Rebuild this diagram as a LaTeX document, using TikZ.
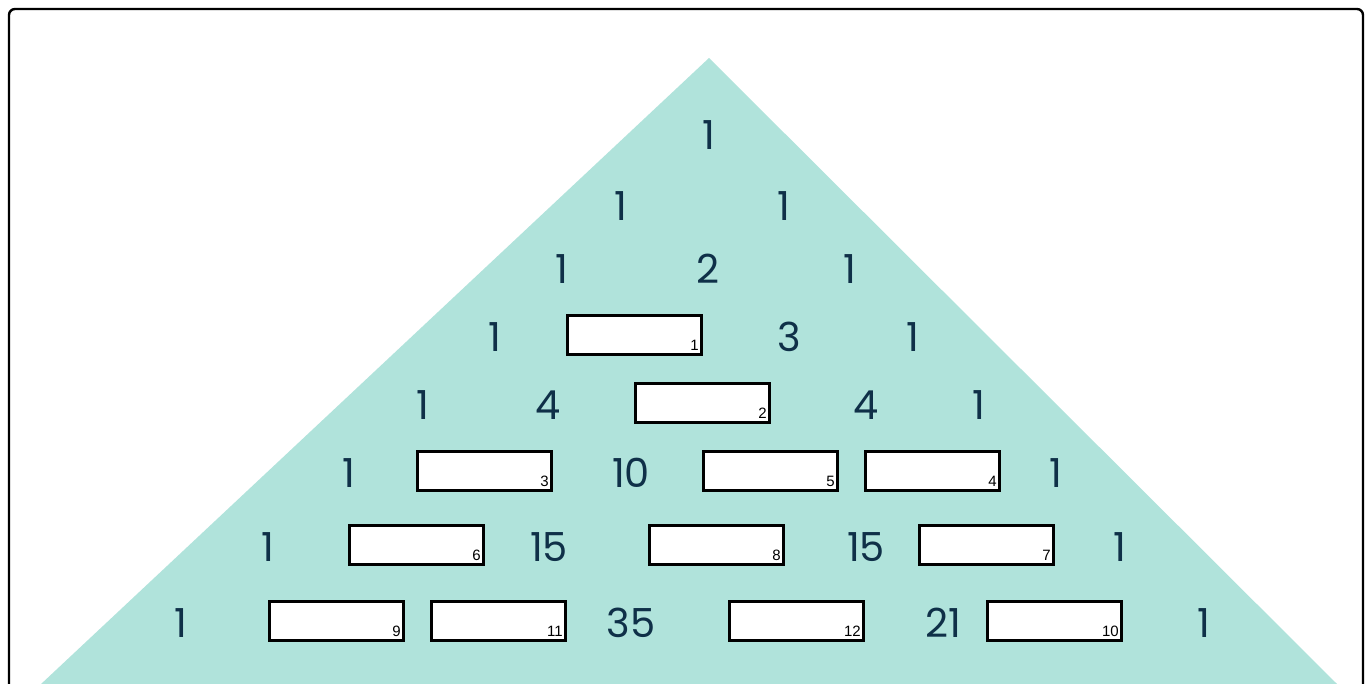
\documentclass[tikz,border=0pt]{standalone}
\usepackage{fontspec}
\newfontfamily\numfont{Poppins}
\newfontfamily\tagfont{Liberation Sans}
\definecolor{teal1}{HTML}{B0E3DB}
\definecolor{navy}{HTML}{0F3048}
\tikzset{
  num/.style={font=\numfont\fontsize{40}{40}\selectfont, text=navy, inner sep=0pt},
  blank/.style={draw=black, line width=3pt, fill=white, minimum width=134pt, minimum height=39pt, inner sep=0pt},
  tag/.style={font=\tagfont\fontsize{15}{15}\selectfont, text=black, inner sep=0pt, anchor=south east}
}
\begin{document}
\begin{tikzpicture}[x=1pt,y=-1pt]
\useasboundingbox (0,0) rectangle (1372,683);
\clip (0,0) rectangle (1372,683);
\fill[white] (0,0) rectangle (1372,683);
\draw[line width=2.4pt, rounded corners=6pt] (9,9) rectangle (1363,720);
\fill[teal1] (709,58) -- (1338,685) -- (40,685) -- cycle;
% row 0
\node[num] (n00) at (709,135) {1};
% row 1
\node[num] (n10) at (621,206) {1};
\node[num] (n11) at (784,206) {1};
% row 2
\node[num] (n20) at (562,269) {1};
\node[num] (n21) at (708,269) {2};
\node[num] (n22) at (850,269) {1};
% row 3
\node[num] (n30) at (495,337) {1};
\node[blank] (b1) at (634.5,335) {};
\node[num] (n32) at (789,337) {3};
\node[num] (n33) at (913,337) {1};
% row 4
\node[num] (n40) at (423,405) {1};
\node[num] (n41) at (548,405) {4};
\node[blank] (b2) at (702.5,403) {};
\node[num] (n43) at (866,405) {4};
\node[num] (n44) at (979,405) {1};
% row 5
\node[num] (n50) at (349,473) {1};
\node[blank] (b3) at (484.5,471) {};
\node[num] (n52) at (631,473) {10};
\node[blank] (b5) at (770.5,471) {};
\node[blank] (b4) at (932.5,471) {};
\node[num] (n55) at (1056,473) {1};
% row 6
\node[num] (n60) at (268,547) {1};
\node[blank] (b6) at (416.5,545) {};
\node[num] (n62) at (549,547) {15};
\node[blank] (b8) at (716.5,545) {};
\node[num] (n64) at (866,547) {15};
\node[blank] (b7) at (986.5,545) {};
\node[num] (n66) at (1120,547) {1};
% row 7
\node[num] (n70) at (181,623) {1};
\node[blank] (b9) at (336.5,621) {};
\node[blank] (b11) at (498.5,621) {};
\node[num] (n73) at (631,623) {35};
\node[blank] (b12) at (796.5,621) {};
\node[num] (n75) at (943,623) {21};
\node[blank] (b10) at (1054.5,621) {};
\node[num] (n77) at (1204,623) {1};
% tags
\foreach \b in {1,...,12} {
  \node[tag] (t\b) at ([xshift=-4pt,yshift=5pt]b\b.south east) {\b};
}
\end{tikzpicture}
\end{document}
